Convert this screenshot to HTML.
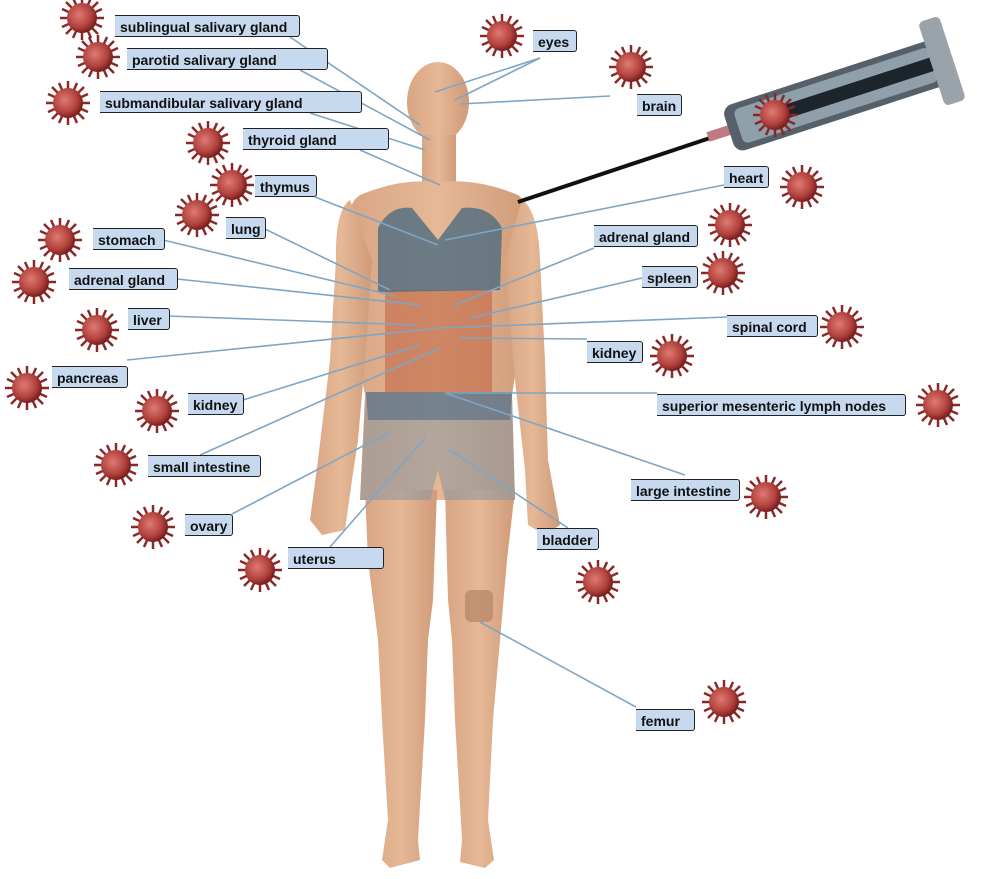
<!DOCTYPE html>
<html><head><meta charset="utf-8">
<style>
html,body{margin:0;padding:0;background:#fff;}
body{width:1006px;height:879px;overflow:hidden;position:relative;font-family:"Liberation Sans",Arial,sans-serif;}
svg{position:absolute;left:0;top:0;}
.l{position:absolute;height:22px;line-height:22px;background:#c6d9ee;border-top:1.5px solid #222;border-bottom:1.5px solid #222;border-right:1.5px solid #222;border-radius:0 3px 3px 0;font-weight:bold;font-size:14px;color:#111;padding-left:5px;box-sizing:border-box;white-space:nowrap;}
</style></head><body>
<svg width="1006" height="879" viewBox="0 0 1006 879">
<defs>
<radialGradient id="vg" cx="40%" cy="40%" r="60%"><stop offset="0" stop-color="#e07a72"/><stop offset="0.7" stop-color="#b0403c"/><stop offset="1" stop-color="#7a1f1f"/></radialGradient>
<g id="v">
<g stroke="#8a2828" stroke-width="2.5">
<line x1="-22" y1="0" x2="22" y2="0"/><line x1="0" y1="-22" x2="0" y2="22"/>
<line x1="-16" y1="-16" x2="16" y2="16"/><line x1="-16" y1="16" x2="16" y2="-16"/>
<line x1="-20" y1="-9" x2="20" y2="9"/><line x1="-20" y1="9" x2="20" y2="-9"/>
<line x1="-9" y1="-20" x2="9" y2="20"/><line x1="-9" y1="20" x2="9" y2="-20"/>
</g>
<circle r="15" fill="url(#vg)"/>
</g>
<linearGradient id="sk" x1="0" x2="1"><stop offset="0" stop-color="#d9a583"/><stop offset="0.5" stop-color="#e6b896"/><stop offset="1" stop-color="#cf9a78"/></linearGradient>
</defs>

<g fill="url(#sk)">
<ellipse cx="438" cy="102" rx="31" ry="40"/>
<rect x="422" y="135" width="34" height="50"/>
<path d="M360 195 Q400 178 438 182 Q478 178 518 195 Q532 205 530 250 L522 330 Q516 370 512 395 L515 500 L360 500 L365 395 Q358 360 352 330 L346 250 Q344 205 360 195Z"/>
<path d="M350 200 Q335 210 336 260 L330 360 L318 460 L310 520 L322 535 L345 530 L352 480 L358 440 L365 360 L372 260Z"/>
<path d="M522 200 Q538 210 540 260 L545 360 L548 460 L560 525 L545 535 L528 525 L525 470 L515 380 L505 260Z"/>
<path d="M365 490 L437 490 L433 600 L428 640 L425 720 L418 840 L420 860 L390 868 L382 860 L388 820 L382 720 L378 640 L368 560Z"/>
<path d="M445 490 L515 490 L507 560 L500 640 L493 720 L488 820 L494 860 L485 868 L460 862 L462 840 L455 720 L452 640 L448 600Z"/>
</g>
<path d="M385 290 L492 290 L492 392 L385 392Z" fill="#c4704f" opacity="0.7"/>
<path d="M378 228 Q390 205 412 208 L438 240 L462 208 Q490 205 502 228 L500 290 L378 292Z" fill="#4d6b80" opacity="0.8"/>
<path d="M366 392 L512 392 L515 500 L445 500 L438 470 L430 500 L360 500Z" fill="#7f93a3" opacity="0.5"/>
<path d="M366 392 L512 392 L510 420 L368 420Z" fill="#4f6b86" opacity="0.6"/>
<rect x="465" y="590" width="28" height="32" rx="6" fill="#b98a6a" opacity="0.8"/>

<g stroke="#7ea6c4" stroke-width="1.6" fill="none">
<line x1="290" y1="37" x2="420" y2="125"/>
<line x1="300" y1="70" x2="430" y2="140"/>
<line x1="310" y1="113" x2="425" y2="150"/>
<line x1="360" y1="150" x2="440" y2="185"/>
<line x1="315" y1="197" x2="438" y2="245"/>
<line x1="265" y1="229" x2="390" y2="290"/>
<line x1="163" y1="240" x2="395" y2="296"/>
<line x1="177" y1="279" x2="420" y2="305"/>
<line x1="168" y1="316" x2="415" y2="325"/>
<line x1="127" y1="360" x2="440" y2="328"/>
<line x1="243" y1="400" x2="420" y2="345"/>
<line x1="200" y1="455" x2="440" y2="348"/>
<line x1="232" y1="514" x2="390" y2="432"/>
<line x1="330" y1="547" x2="425" y2="438"/>
<line x1="540" y1="58" x2="435" y2="92"/>
<line x1="540" y1="58" x2="455" y2="100"/>
<line x1="610" y1="96" x2="460" y2="104"/>
<line x1="724" y1="185" x2="445" y2="240"/>
<line x1="594" y1="248" x2="455" y2="305"/>
<line x1="642" y1="278" x2="470" y2="318"/>
<line x1="727" y1="317" x2="440" y2="328"/>
<line x1="587" y1="339" x2="460" y2="338"/>
<line x1="657" y1="393" x2="445" y2="393"/>
<line x1="685" y1="475" x2="445" y2="393"/>
<line x1="568" y1="528" x2="450" y2="450"/>
<line x1="636" y1="707" x2="480" y2="622"/>
</g>

<line x1="518" y1="202" x2="710" y2="138" stroke="#111" stroke-width="4"/>
<g transform="translate(708,137) rotate(-18)">
<rect x="0" y="-5" width="24" height="10" fill="#c07a86"/>
<rect x="22" y="-24" width="225" height="48" rx="10" fill="#55606a"/>
<rect x="32" y="-18" width="205" height="36" rx="6" fill="#9fb0bc" opacity="0.8"/>
<rect x="70" y="-7" width="185" height="14" fill="#1d252c"/>
<rect x="235" y="-44" width="22" height="88" rx="5" fill="#9aa3aa"/>
</g>

<g>
<use href="#v" x="82" y="18"/><use href="#v" x="98" y="57"/><use href="#v" x="68" y="103"/>
<use href="#v" x="208" y="143"/><use href="#v" x="232" y="185"/><use href="#v" x="197" y="215"/>
<use href="#v" x="60" y="240"/><use href="#v" x="34" y="282"/><use href="#v" x="97" y="330"/>
<use href="#v" x="27" y="388"/><use href="#v" x="157" y="411"/><use href="#v" x="116" y="465"/>
<use href="#v" x="153" y="527"/><use href="#v" x="260" y="570"/><use href="#v" x="502" y="36"/>
<use href="#v" x="631" y="67"/><use href="#v" x="802" y="187"/><use href="#v" x="730" y="225"/>
<use href="#v" x="723" y="273"/><use href="#v" x="842" y="327"/><use href="#v" x="672" y="356"/>
<use href="#v" x="938" y="405"/><use href="#v" x="766" y="497"/><use href="#v" x="598" y="582"/>
<use href="#v" x="724" y="702"/><use href="#v" x="775" y="115"/>
</g>
</svg>

<div class="l" style="left:115px;top:15px;width:185px">sublingual salivary gland</div>
<div class="l" style="left:127px;top:48px;width:201px">parotid salivary gland</div>
<div class="l" style="left:100px;top:91px;width:262px">submandibular salivary gland</div>
<div class="l" style="left:243px;top:128px;width:146px">thyroid gland</div>
<div class="l" style="left:255px;top:175px;width:62px">thymus</div>
<div class="l" style="left:226px;top:217px;width:40px">lung</div>
<div class="l" style="left:93px;top:228px;width:72px">stomach</div>
<div class="l" style="left:69px;top:268px;width:109px">adrenal gland</div>
<div class="l" style="left:128px;top:308px;width:42px">liver</div>
<div class="l" style="left:52px;top:366px;width:76px">pancreas</div>
<div class="l" style="left:188px;top:393px;width:56px">kidney</div>
<div class="l" style="left:148px;top:455px;width:113px">small intestine</div>
<div class="l" style="left:185px;top:514px;width:48px">ovary</div>
<div class="l" style="left:288px;top:547px;width:96px">uterus</div>
<div class="l" style="left:533px;top:30px;width:44px">eyes</div>
<div class="l" style="left:637px;top:94px;width:45px">brain</div>
<div class="l" style="left:724px;top:166px;width:45px">heart</div>
<div class="l" style="left:594px;top:225px;width:104px">adrenal gland</div>
<div class="l" style="left:642px;top:266px;width:56px">spleen</div>
<div class="l" style="left:727px;top:315px;width:91px">spinal cord</div>
<div class="l" style="left:587px;top:341px;width:56px">kidney</div>
<div class="l" style="left:657px;top:394px;width:249px">superior mesenteric lymph nodes</div>
<div class="l" style="left:631px;top:479px;width:109px">large intestine</div>
<div class="l" style="left:537px;top:528px;width:62px">bladder</div>
<div class="l" style="left:636px;top:709px;width:59px">femur</div>
</body></html>
